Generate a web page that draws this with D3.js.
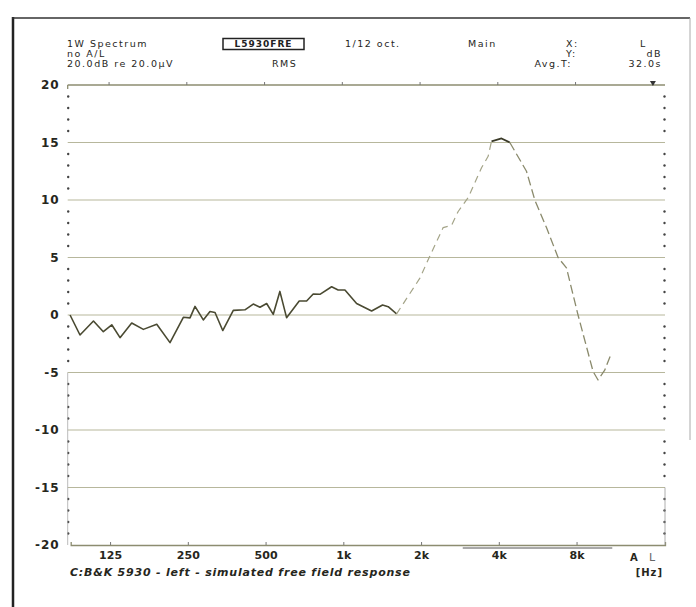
<!DOCTYPE html>
<html><head><meta charset="utf-8">
<script src="https://cdn.jsdelivr.net/npm/d3@7"></script>
<style>body{margin:0;background:#fff}svg{display:block}</style>
</head><body>
<script>
const freqs = [87.5,95.6,107.8,117.7,126.9,136.6,151.6,168.2,189.5,213.3,240.2,254.9,266.6,287,304.6,318.6,341.3,375,416,448,475.7,504.9,535.5,568,603,675,721,764.6,811.8,901,955,1014.6,1125.8,1287,1419,1492,1608,1778,1979,2150,2435,2625,2784,3043,3429,3637,3748,4099,4412,5119,5513,6119,6784,7311,8106,9266,9687,10283,10919];
const levels = [0,-1.74,-0.52,-1.45,-0.85,-1.97,-0.7,-1.25,-0.8,-2.4,-0.2,-0.25,0.75,-0.43,0.3,0.22,-1.35,0.4,0.45,0.95,0.67,1.0,0.06,2.05,-0.23,1.22,1.22,1.83,1.8,2.46,2.17,2.17,1.0,0.35,0.87,0.72,0.1,1.6,3.2,5.0,7.6,7.8,9.0,10.2,12.8,13.8,15.1,15.35,15.0,12.5,10.0,7.6,5.0,4.1,0,-4.9,-5.65,-4.8,-3.3];
const xTickValues = [125,250,500,1000,2000,4000,8000];
const xTickLabels = ["125","250","500","1k","2k","4k","8k"];
const topTickValues = [125,250,500,1000,2000,4000,8000,16000];
const yTickValues = [20,15,10,5,0,-5,-10,-15,-20];

const W=696,H=607;
const svg=d3.select("body").append("svg").attr("width",W).attr("height",H);
const x=d3.scaleLog().domain([88,17600]).range([70.7,665]);
const y=d3.scaleLinear().domain([-20,20]).range([545,85]);
const font="DejaVu Sans";
const ink="#26261c";

// frame
svg.append("line").attr("x1",13).attr("x2",13).attr("y1",17).attr("y2",607).attr("stroke","#222").attr("stroke-width",2.5);
svg.append("line").attr("x1",12).attr("x2",690).attr("y1",18).attr("y2",18).attr("stroke","#333").attr("stroke-width",1.5);
svg.append("line").attr("x1",690).attr("x2",690).attr("y1",18).attr("y2",440).attr("stroke","#aaa").attr("stroke-width",1);

// grid
const gridColor="#b7b79c";
svg.append("g").selectAll("line").data(yTickValues.filter(v=>v<20&&v>-20)).join("line")
  .attr("x1",x.range()[0]-3).attr("x2",x.range()[1]).attr("y1",d=>y(d)).attr("y2",d=>y(d))
  .attr("stroke",gridColor).attr("stroke-width",1.2);

// top axis
svg.append("line").attr("x1",x.range()[0]-3).attr("x2",x.range()[1]).attr("y1",y(20)).attr("y2",y(20)).attr("stroke","#8c8c70").attr("stroke-width",1.3);
svg.append("line").attr("x1",x.range()[0]-3).attr("x2",x.range()[0]-3).attr("y1",y(20)).attr("y2",y(20)+4).attr("stroke","#8c8c70").attr("stroke-width",1.3);
svg.append("g").selectAll("line").data(topTickValues).join("line")
  .attr("x1",d=>x(d)-1).attr("x2",d=>x(d)-1).attr("y1",y(20)).attr("y2",y(20)-3).attr("stroke","#777").attr("stroke-width",1);
svg.append("path").attr("d",`M${x(15800)-3},${y(20)-4}L${x(15800)+3},${y(20)-4}L${x(15800)},${y(20)+1}Z`).attr("fill","#333");

// bottom axis
const bx=d3.axisBottom(x).tickValues(xTickValues).tickFormat((d,i)=>xTickLabels[i]).tickSize(-3).tickPadding(8);
const gb=svg.append("g").attr("transform",`translate(0,${y(-20)})`).call(bx);
gb.select(".domain").attr("stroke","#8c8c70").attr("stroke-width",1.3);
gb.selectAll(".tick line").attr("stroke","#777");
gb.selectAll(".tick text").attr("font-family",font).attr("font-size",11).attr("font-weight","bold").attr("fill",ink).attr("dy","0.5em");
svg.append("line").attr("x1",x(2900)).attr("x2",x(11000)).attr("y1",y(-20)+3).attr("y2",y(-20)+3).attr("stroke","#555").attr("stroke-width",1.2);

// left axis labels
const ly=d3.axisLeft(y).tickValues(yTickValues).tickSize(0).tickPadding(8).tickFormat(d=>String(d));
const gl=svg.append("g").attr("transform",`translate(${x.range()[0]-3},0)`).call(ly);
gl.select(".domain").remove();
gl.selectAll(".tick text").attr("font-family",font).attr("font-size",12).attr("font-weight","bold").attr("fill",ink).attr("letter-spacing",1);

// dots along left and right edges
const minor=d3.range(-19,20).filter(v=>v%5!==0);
svg.append("g").selectAll("circle").data(minor).join("circle")
  .attr("cx",x.range()[0]-2.5).attr("cy",d=>y(d)).attr("r",1.2).attr("fill","#444");
svg.append("g").selectAll("circle").data(minor).join("circle")
  .attr("cx",x.range()[1]-0.5).attr("cy",d=>y(d)).attr("r",1.2).attr("fill","#444");
svg.append("line").attr("x1",x.range()[0]-3).attr("x2",x.range()[0]-3).attr("y1",y(-5)).attr("y2",y(-20)).attr("stroke","#aaa").attr("stroke-width",0.8);
svg.append("line").attr("x1",x.range()[1]).attr("x2",x.range()[1]).attr("y1",y(-15)).attr("y2",y(-20)).attr("stroke","#999").attr("stroke-width",0.8);

// curve
const pts=freqs.map((f,i)=>[f,levels[i]]);
const line=d3.line().x(d=>x(d[0])).y(d=>y(d[1]));
const segs=[
  {a:0,b:36,stroke:"#4a4a32",w:1.6,dash:null},
  {a:36,b:46,stroke:"#a4a488",w:1.2,dash:"7,5"},
  {a:46,b:48,stroke:"#3a3a28",w:1.8,dash:null},
  {a:48,b:58,stroke:"#8a8a6c",w:1.3,dash:"9,4"}
];
segs.forEach(s=>{
  svg.append("path").datum(pts.slice(s.a,s.b+1)).attr("d",line).attr("fill","none")
    .attr("stroke",s.stroke).attr("stroke-width",s.w).attr("stroke-linejoin","round")
    .attr("stroke-dasharray",s.dash);
});

// header texts
const hdr=[
  ["1W Spectrum",67,47,"start"],["1/12 oct.",345,47,"start"],["Main",468,47,"start"],["X:",566,47,"start"],["L",640,47,"start"],
  ["no A/L",67,57,"start"],["Y:",566,57,"start"],["dB",662,57,"end"],
  ["20.0dB re 20.0\u00b5V",67,67,"start"],["RMS",272,67,"start"],["Avg.T:",572,67,"end"],["32.0s",662,67,"end"]
];
svg.append("g").selectAll("text").data(hdr).join("text")
  .attr("x",d=>d[1]).attr("y",d=>d[2]).attr("text-anchor",d=>d[3]).text(d=>d[0])
  .attr("font-family",font).attr("font-size",9.5).attr("letter-spacing",1.5).attr("fill",ink);
svg.append("rect").attr("x",223).attr("y",38.5).attr("width",81).attr("height",11).attr("fill","none").attr("stroke","#222").attr("stroke-width",1.5);
svg.append("text").attr("x",263.5).attr("y",47).attr("text-anchor","middle").text("L5930FRE")
  .attr("font-family",font).attr("font-size",9).attr("font-weight","bold").attr("letter-spacing",1).attr("fill","#222");

// bottom texts
svg.append("text").attr("x",630).attr("y",561).text("A").attr("font-family",font).attr("font-size",10).attr("font-weight","bold").attr("fill",ink);
svg.append("text").attr("x",649).attr("y",561).text("L").attr("font-family",font).attr("font-size",11).attr("fill","#666");
svg.append("text").attr("x",70).attr("y",576).text("C:B&K 5930 - left - simulated free field response")
  .attr("font-family",font).attr("font-size",11).attr("font-weight","bold").attr("font-style","italic").attr("letter-spacing",0.8).attr("fill",ink);
svg.append("text").attr("x",663).attr("y",576).attr("text-anchor","end").text("[Hz]")
  .attr("font-family",font).attr("font-size",10).attr("font-weight","bold").attr("fill",ink).attr("letter-spacing",1);
</script>
</body></html>
